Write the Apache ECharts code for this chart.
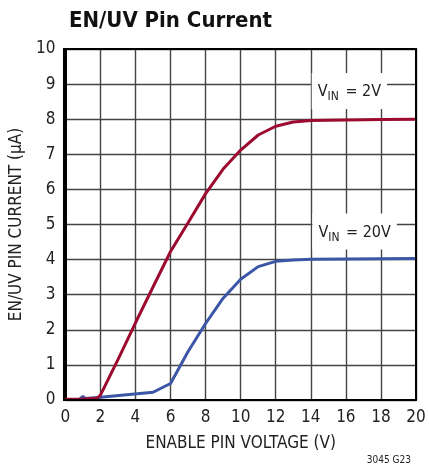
<!DOCTYPE html>
<html>
<head>
<meta charset="utf-8">
<script src="https://cdn.jsdelivr.net/npm/echarts@6/dist/echarts.min.js"></script>
<style>
html,body{margin:0;padding:0;background:#fff;}
#c{width:429px;height:471px;}
</style>
</head>
<body>
<div id="c"></div>
<script>
// Data
const vinLabels = ['2V', '20V'];
const xTicks = [0, 2, 4, 6, 8, 10, 12, 14, 16, 18, 20];
const yTicks = [0, 1, 2, 3, 4, 5, 6, 7, 8, 9, 10];

const vRed = [0, 1, 1.8, 2, 3, 4, 5, 6, 7, 8, 9, 10, 11, 12, 13, 14, 16, 18, 20];
const iRed = [0.02, 0.03, 0.05, 0.14, 1.15, 2.2, 3.22, 4.23, 5.05, 5.88, 6.58, 7.12, 7.55, 7.8, 7.92, 7.96, 7.98, 7.99, 8.0];

const vBlue = [0.8, 1.0, 1.15, 2, 5, 6, 7, 8, 9, 10, 11, 12, 13, 14, 16, 20];
const iBlue = [0.02, 0.1, 0.04, 0.08, 0.22, 0.47, 1.38, 2.18, 2.9, 3.44, 3.8, 3.95, 3.99, 4.01, 4.02, 4.03];

const FONT = "'DejaVu Sans Condensed', 'Liberation Sans Narrow', sans-serif";

const pairs = (xs, ys) => xs.map((x, i) => [x, ys[i]]);

function vinLabel(text, coord) {
  return {
    coord: coord,
    symbol: 'rect',
    symbolSize: 0,
    label: {
      show: true,
      position: 'inside',
      formatter: '{a|V}{b|IN}{a| = ' + text + '}',
      backgroundColor: '#fff',
      padding: [9, 6, 7, 6],
      rich: {
        a: { fontFamily: FONT, fontSize: 16, color: '#222', lineHeight: 20 },
        b: { fontFamily: FONT, fontSize: 12, color: '#222', lineHeight: 20, padding: [10, 2, 0, 0] }
      }
    }
  };
}

const chart = echarts.init(document.getElementById('c'), null, { renderer: 'canvas' });
chart.setOption({
  backgroundColor: '#fff',
  animation: false,
  title: [
    {
      text: 'EN/UV Pin Current',
      left: 64, top: 5,
      textStyle: { fontFamily: FONT, fontSize: 22, fontWeight: 'bold', color: '#111' }
    },
    {
      text: '3045 G23',
      right: 13, bottom: 1,
      textStyle: { fontFamily: FONT, fontSize: 10, fontWeight: 'normal', color: '#222' }
    }
  ],
  grid: { left: 64, right: 13, top: 49, bottom: 71 },
  xAxis: {
    type: 'value', min: 0, max: 20, interval: 2,
    name: 'ENABLE PIN VOLTAGE (V)', nameLocation: 'middle', nameGap: 35,
    nameTextStyle: { fontFamily: FONT, fontSize: 17, color: '#222' },
    axisLine: { show: true, onZero: false, lineStyle: { color: '#000', width: 2 } },
    axisTick: { show: false },
    axisLabel: { fontFamily: FONT, fontSize: 17, color: '#222', margin: 9,
      formatter: v => xTicks.includes(v) ? String(v) : '' },
    splitLine: { show: true, lineStyle: { color: '#444', width: 1.4 } }
  },
  yAxis: {
    type: 'value', min: 0, max: 10, interval: 1,
    name: 'EN/UV PIN CURRENT (\u03bcA)', nameLocation: 'middle', nameGap: 40,
    nameTextStyle: { fontFamily: FONT, fontSize: 17, color: '#222' },
    axisLine: { show: true, onZero: false, lineStyle: { color: '#000', width: 2 } },
    axisTick: { show: false },
    axisLabel: { fontFamily: FONT, fontSize: 17, color: '#222', margin: 10,
      formatter: v => yTicks.includes(v) ? String(v) : '' },
    splitLine: { show: true, lineStyle: { color: '#444', width: 1.4 } }
  },
  series: [
    {
      name: 'VIN = ' + vinLabels[1],
      type: 'line',
      data: pairs(vBlue, iBlue),
      symbol: 'none',
      lineStyle: { color: '#3b56a6', width: 3 },
      z: 3,
      markPoint: { data: [vinLabel(vinLabels[1], [16.5, 4.8])], z: 5 }
    },
    {
      name: 'VIN = ' + vinLabels[0],
      type: 'line',
      data: pairs(vRed, iRed),
      symbol: 'none',
      lineStyle: { color: '#9c0b2f', width: 3 },
      z: 4,
      markPoint: { data: [vinLabel(vinLabels[0], [16.2, 8.8])], z: 5 }
    }
  ],
  graphic: [
    {
      type: 'rect',
      shape: { x: 64, y: 49, width: 352, height: 351 },
      style: { fill: 'none', stroke: '#000', lineWidth: 2 },
      silent: true, z: 10
    }
  ]
});
</script>
</body>
</html>
